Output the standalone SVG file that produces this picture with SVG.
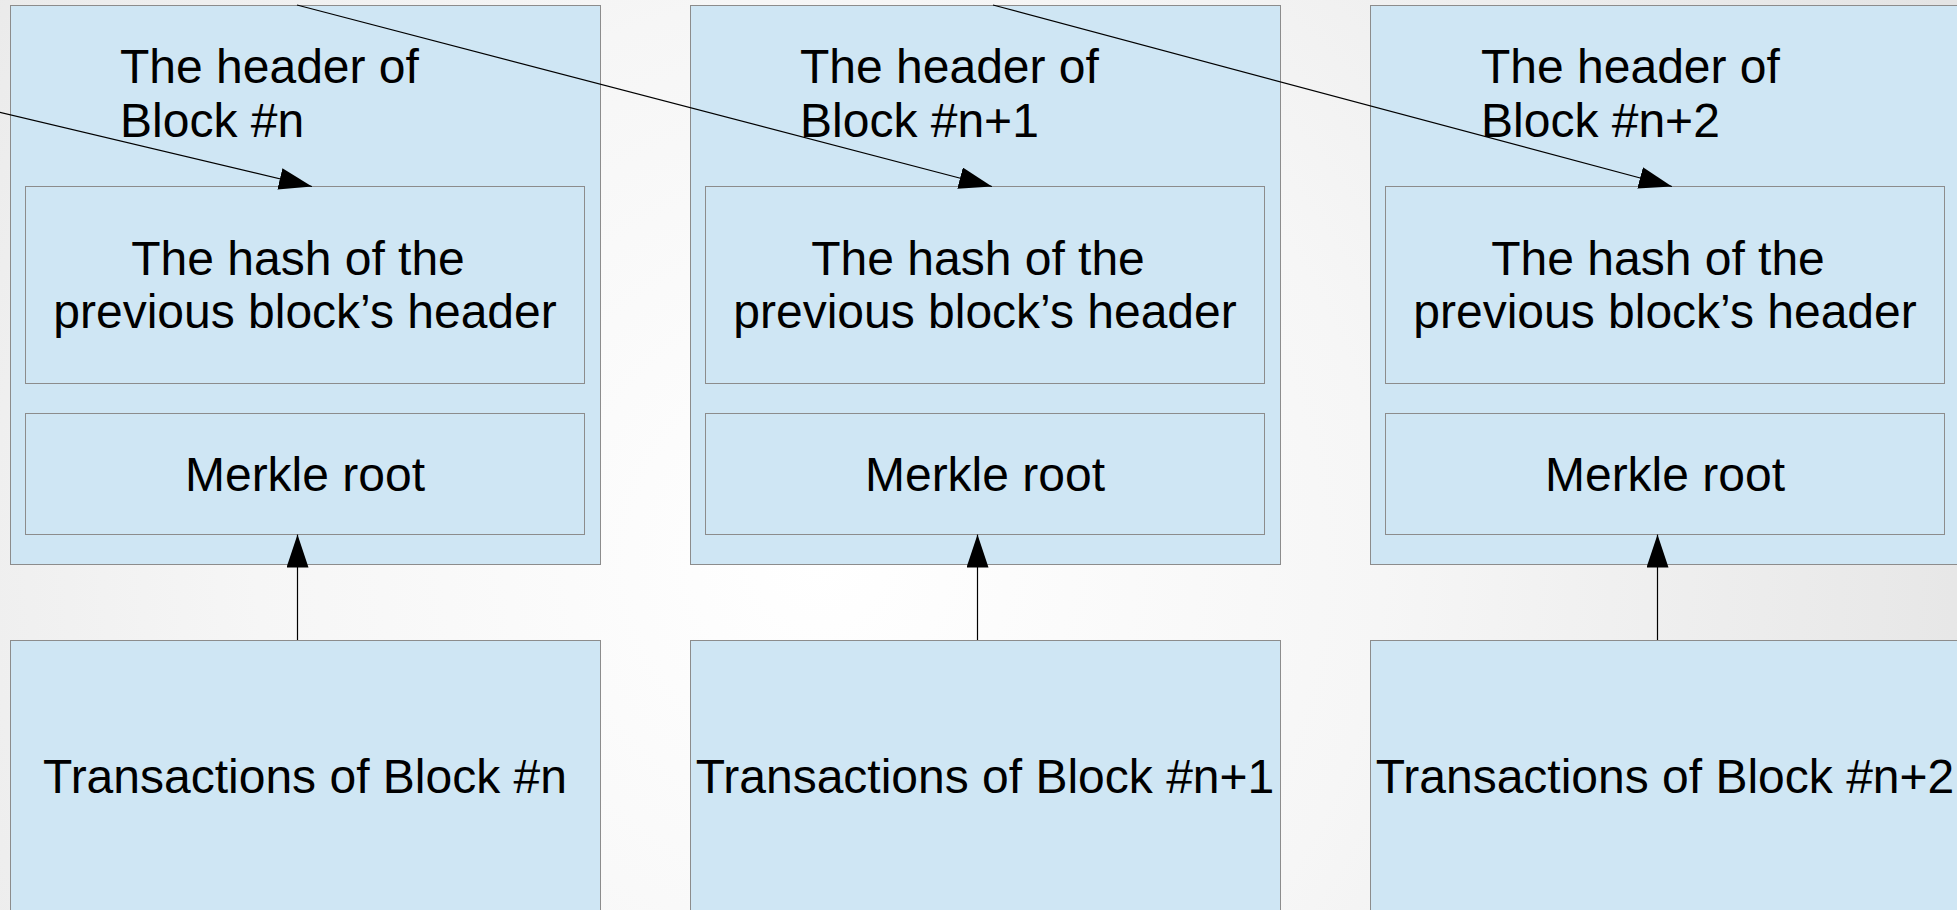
<svg xmlns="http://www.w3.org/2000/svg" width="1957" height="910" viewBox="0 0 1957 910">
  <defs>
    <radialGradient id="bg" cx="820" cy="560" r="1250" gradientUnits="userSpaceOnUse">
      <stop offset="0" stop-color="#ffffff"/>
      <stop offset="0.45" stop-color="#f6f6f6"/>
      <stop offset="1" stop-color="#e4e4e4"/>
    </radialGradient>
    <marker id="arrow" markerUnits="userSpaceOnUse" markerWidth="33" markerHeight="22" viewBox="0 0 33 22" refX="33" refY="11" orient="auto">
      <path d="M0,0 L33,11 L0,22 z" fill="#000"/>
    </marker>
    <style>
      .box { fill: #cfe6f4; stroke: #8c8c8c; stroke-width: 1; }
      .txt { font-family: "Liberation Sans", Arial, sans-serif; font-size: 48px; fill: #000; }
      .mid { text-anchor: middle; }
      .link { stroke: #000; stroke-width: 1.2; fill: none; marker-end: url(#arrow); }
    </style>
  </defs>

  <rect x="0" y="0" width="1957" height="910" fill="url(#bg)"/>

  <!-- Block #n -->
  <g id="header-n">
    <rect class="box" x="10.5" y="5.5" width="590" height="559"/>
    <text class="txt" x="120" y="83">The header of</text>
    <text class="txt" x="120" y="137">Block #n</text>
  </g>
  <g id="hash-n">
    <rect class="box" x="25.5" y="186.5" width="559" height="197"/>
    <text class="txt mid" x="298" y="275">The hash of the</text>
    <text class="txt mid" x="305" y="328">previous block’s header</text>
  </g>
  <g id="merkle-n">
    <rect class="box" x="25.5" y="413.5" width="559" height="121"/>
    <text class="txt mid" x="305" y="491">Merkle root</text>
  </g>
  <g id="tx-n">
    <rect class="box" x="10.5" y="640.5" width="590" height="300"/>
    <text class="txt mid" x="305" y="793">Transactions of Block #n</text>
  </g>

  <!-- Block #n+1 -->
  <g id="header-n1">
    <rect class="box" x="690.5" y="5.5" width="590" height="559"/>
    <text class="txt" x="800" y="83">The header of</text>
    <text class="txt" x="800" y="137">Block #n+1</text>
  </g>
  <g id="hash-n1">
    <rect class="box" x="705.5" y="186.5" width="559" height="197"/>
    <text class="txt mid" x="978" y="275">The hash of the</text>
    <text class="txt mid" x="985" y="328">previous block’s header</text>
  </g>
  <g id="merkle-n1">
    <rect class="box" x="705.5" y="413.5" width="559" height="121"/>
    <text class="txt mid" x="985" y="491">Merkle root</text>
  </g>
  <g id="tx-n1">
    <rect class="box" x="690.5" y="640.5" width="590" height="300"/>
    <text class="txt mid" x="985" y="793">Transactions of Block #n+1</text>
  </g>

  <!-- Block #n+2 -->
  <g id="header-n2">
    <rect class="box" x="1370.5" y="5.5" width="590" height="559"/>
    <text class="txt" x="1481" y="83">The header of</text>
    <text class="txt" x="1481" y="137">Block #n+2</text>
  </g>
  <g id="hash-n2">
    <rect class="box" x="1385.5" y="186.5" width="559" height="197"/>
    <text class="txt mid" x="1658" y="275">The hash of the</text>
    <text class="txt mid" x="1665" y="328">previous block’s header</text>
  </g>
  <g id="merkle-n2">
    <rect class="box" x="1385.5" y="413.5" width="559" height="121"/>
    <text class="txt mid" x="1665" y="491">Merkle root</text>
  </g>
  <g id="tx-n2">
    <rect class="box" x="1370.5" y="640.5" width="590" height="300"/>
    <text class="txt mid" x="1665" y="793">Transactions of Block #n+2</text>
  </g>

  <!-- Connectors -->
  <g id="connectors">
    <line class="link" x1="-451" y1="5" x2="312" y2="186.5"/>
    <line class="link" x1="297" y1="5" x2="992" y2="186.5"/>
    <line class="link" x1="993" y1="5" x2="1672" y2="186.5"/>
    <line class="link" x1="297.5" y1="640" x2="297.5" y2="534.5"/>
    <line class="link" x1="977.5" y1="640" x2="977.5" y2="534.5"/>
    <line class="link" x1="1657.5" y1="640" x2="1657.5" y2="534.5"/>
  </g>
</svg>
